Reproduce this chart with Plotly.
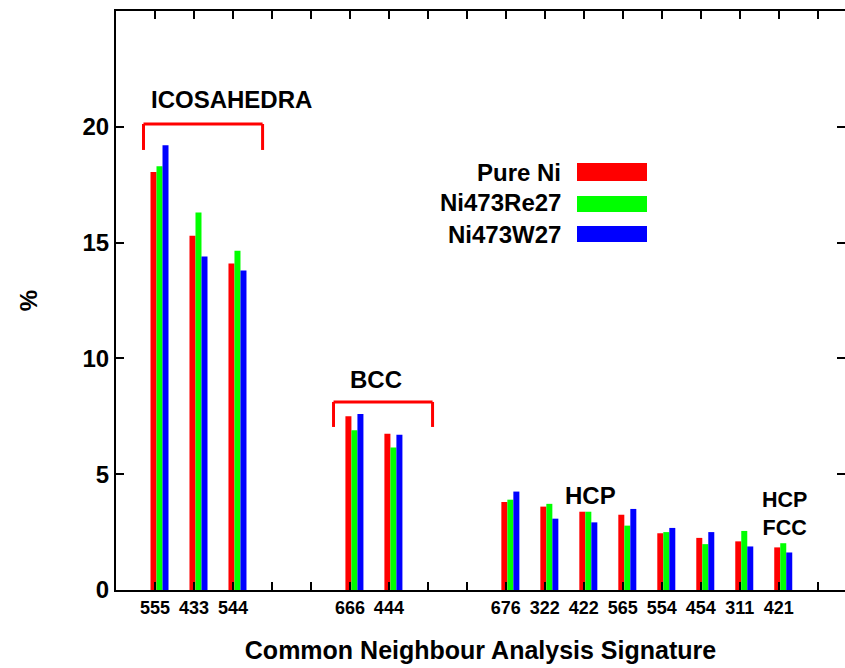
import plotly.graph_objects as go

# ---------------- data ----------------
categories = ["555", "433", "544", "666", "444", "676", "322", "422", "565", "554", "454", "311", "421"]
# axis slots including empty spacer slots (blank names)
category_order = ["555", "433", "544", " ", "  ", "666", "444", "   ", "    ",
                  "676", "322", "422", "565", "554", "454", "311", "421", "     "]
pure_ni = [18.05, 15.3, 14.1, 7.5, 6.75, 3.8, 3.6, 3.38, 3.25, 2.45, 2.25, 2.1, 1.84]
ni_re = [18.3, 16.3, 14.65, 6.9, 6.15, 3.9, 3.72, 3.38, 2.78, 2.5, 1.98, 2.55, 2.02]
ni_w = [19.2, 14.4, 13.8, 7.6, 6.7, 4.25, 3.08, 2.92, 3.5, 2.68, 2.5, 1.88, 1.62]
series_names = ["Pure Ni", "Ni473Re27", "Ni473W27"]
series_values = [pure_ni, ni_re, ni_w]
y_ticks = [0, 5, 10, 15, 20]

colors = ["#ff0000", "#00ff00", "#0000ff"]
offsets = [-0.115, 0.039, 0.193]
bar_w = 0.154
FONT = "Liberation Sans, Arial, sans-serif"

fig = go.Figure()
for name, vals, c, off in zip(series_names, series_values, colors, offsets):
    fig.add_trace(go.Bar(x=categories, y=vals, name=name, marker_color=c,
                         marker_line_width=0, width=bar_w, offset=off,
                         showlegend=False))

# invisible trace to activate the right-hand tick axis
fig.add_trace(go.Scatter(x=[], y=[], yaxis="y2", showlegend=False))

shapes = []
annotations = []
RED_LINE = dict(color="#ff0000", width=3)

def bracket(x0, x1, ytop, ybot):
    return [
        dict(type="line", xref="x", yref="y", x0=x0, x1=x0, y0=ybot, y1=ytop, line=RED_LINE),
        dict(type="line", xref="x", yref="y", x0=x0, x1=x1, y0=ytop, y1=ytop, line=RED_LINE),
        dict(type="line", xref="x", yref="y", x0=x1, x1=x1, y0=ybot, y1=ytop, line=RED_LINE),
    ]

shapes += bracket(-0.295, 2.76, 20.12, 19.0)
shapes += bracket(4.58, 7.12, 8.12, 7.04)

labels = [("ICOSAHEDRA", 1.97, 21.16, 24), ("BCC", 5.68, 9.11, 24), ("HCP", 11.17, 4.1, 24),
          ("HCP<br>FCC", 16.14, 3.27, 21.5)]
for t, x, y, s in labels:
    annotations.append(dict(text=f"<b>{t}</b>", x=x, y=y, xref="x", yref="y",
                            showarrow=False, xanchor="center", yanchor="middle",
                            font=dict(family=FONT, size=s, color="black")))

# custom legend (text left, colour sample right); paper coords = plot area
PL, PR, PT, PB = 116, 845, 11, 590
def px_x(px):
    return (px - PL) / (PR - PL)
def px_y(py):
    return (PB - py) / (PB - PT)

leg_rows = [(172, 163, 181), (203, 196, 212), (234, 226, 242)]
for (ty, y0, y1), name, c in zip(leg_rows, series_names, colors):
    annotations.append(dict(text=f"<b>{name}</b>", x=px_x(563), y=px_y(ty),
                            xref="paper", yref="paper", showarrow=False,
                            xanchor="right", yanchor="middle",
                            font=dict(family=FONT, size=24, color="black")))
    shapes.append(dict(type="rect", xref="paper", yref="paper",
                       x0=px_x(577), x1=px_x(647), y0=px_y(y1), y1=px_y(y0),
                       fillcolor=c, line=dict(width=0)))

fig.update_layout(
    width=845, height=668,
    margin=dict(l=116, r=0, t=11, b=78),
    paper_bgcolor="white", plot_bgcolor="white",
    font=dict(family=FONT, color="black"),
    barmode="overlay",
    xaxis=dict(type="category", categoryorder="array", categoryarray=category_order,
               tickvals=category_order, ticktext=[f"<b>{c}</b>" if c.strip() else c
                                                  for c in category_order],
               range=[-1, 17.7], showgrid=False, zeroline=False,
               ticks="inside", ticklen=8, tickwidth=2, tickcolor="black",
               showline=True, linewidth=2, linecolor="black", mirror="ticks",
               tickfont=dict(family=FONT, size=18, color="black"),
               title=dict(text="<b>Common Neighbour Analysis Signature</b>",
                          font=dict(family=FONT, size=25, color="black"), standoff=25)),
    yaxis=dict(range=[0, 25], tickvals=y_ticks,
               ticktext=[f"<b>{v}</b>" for v in y_ticks],
               showgrid=False, zeroline=False,
               ticks="inside", ticklen=8, tickwidth=2, tickcolor="black",
               showline=True, linewidth=2, linecolor="black", mirror=False,
               tickfont=dict(family=FONT, size=24, color="black"),
               title=dict(text="<b>%</b>", font=dict(family=FONT, size=24, color="black"),
                          standoff=38)),
    yaxis2=dict(range=[0, 25], tickvals=y_ticks, overlaying="y", side="right",
                showgrid=False, zeroline=False, showline=False,
                ticks="inside", ticklen=8, tickwidth=2, tickcolor="black",
                showticklabels=False),
    shapes=shapes, annotations=annotations,
)

fig.write_html("out.html")
